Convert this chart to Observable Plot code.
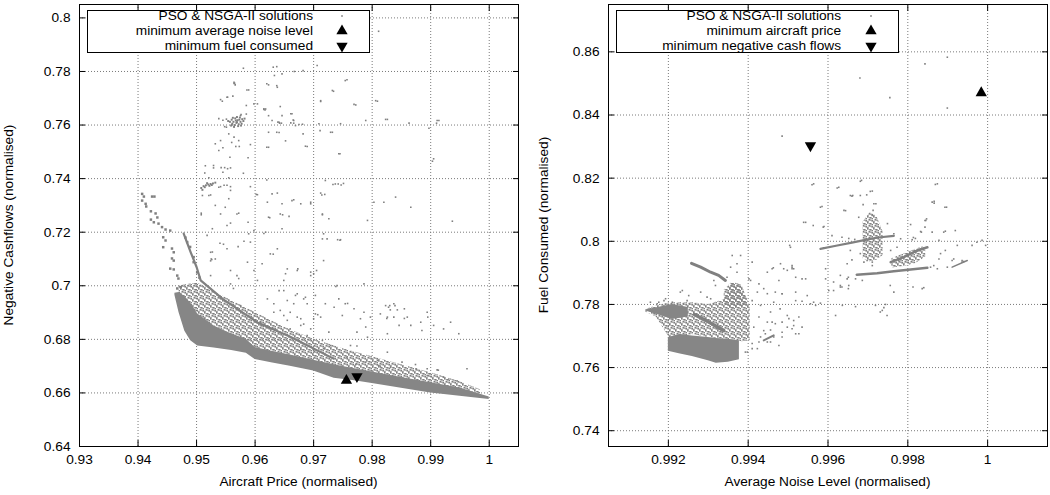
<!DOCTYPE html>
<html><head><meta charset="utf-8">
<script src="https://cdn.jsdelivr.net/npm/d3@7"></script>
<script src="https://cdn.jsdelivr.net/npm/@observablehq/plot@0.6"></script>
<style>
html,body{margin:0;padding:0;background:#fff;}
#wrap{position:relative;width:1050px;height:495px;overflow:hidden;font-family:"Liberation Sans",Arial,sans-serif;font-size:13.7px;color:#000;background:#fff;}
.panel{position:absolute;top:0;}
.legend{position:absolute;border:1px solid #000;background:#fff;box-sizing:border-box;}
.lrow{position:absolute;white-space:nowrap;line-height:15px;height:15px;text-align:right;}
.sym{position:absolute;overflow:visible;}
.ttl{position:absolute;white-space:nowrap;line-height:16px;height:16px;text-align:center;}
</style></head><body>
<svg width="0" height="0" style="position:absolute">
 <defs>
  <pattern id="speck" width="6" height="6" patternUnits="userSpaceOnUse">
   <rect x="0" y="0" width="1.6" height="1.6" fill="#808080"/>
   <rect x="3" y="1" width="1.6" height="1.6" fill="#808080"/>
   <rect x="1.5" y="3" width="1.6" height="1.6" fill="#808080"/>
   <rect x="4.4" y="4" width="1.6" height="1.6" fill="#808080"/>
   <rect x="0.2" y="4.8" width="1.4" height="1.2" fill="#808080"/>
   <rect x="4.6" y="2" width="1.4" height="1.4" fill="#808080"/>
   <rect x="1.8" y="1.2" width="1.2" height="1.2" fill="#808080"/>
   <rect x="3.2" y="3.4" width="1.2" height="1.4" fill="#808080"/>
  </pattern>
 </defs>
</svg>
<div id="wrap"></div>
<script>
// ---------- LEFT PANEL DATA ----------
const leftXTicks = [0.93, 0.94, 0.95, 0.96, 0.97, 0.98, 0.99, 1];
const leftYTicks = [0.64, 0.66, 0.68, 0.70, 0.72, 0.74, 0.76, 0.78, 0.80];
const leftXTickLabels = ["0.93","0.94","0.95","0.96","0.97","0.98","0.99","1"];
const leftYTickLabels = ["0.64","0.66","0.68","0.7","0.72","0.74","0.76","0.78","0.8"];
const leftXTitle = "Aircraft Price (normalised)";
const leftYTitle = "Negative Cashflows (normalised)";
const leftLegend = ["PSO & NSGA-II solutions", "minimum average noise level", "minimum fuel consumed"];
// dense front of solutions: [x, yLow, yHigh]
const leftBandCore = [
 [0.9463,0.6965,0.6972],[0.9470,0.6900,0.6975],[0.9480,0.6830,0.6960],[0.9490,0.6795,0.6935],
 [0.9502,0.6775,0.6895],[0.9530,0.6768,0.6850],[0.9560,0.6758,0.6820],[0.9585,0.6748,0.6800],
 [0.9600,0.6725,0.6770],[0.9630,0.6712,0.6755],[0.9660,0.6700,0.6742],[0.9700,0.6682,0.6722],
 [0.9735,0.6655,0.6705],[0.9770,0.6645,0.6690],[0.9800,0.6635,0.6678],[0.9850,0.6617,0.6658],
 [0.9900,0.6600,0.6638],[0.9950,0.6588,0.6618],[1.0000,0.6575,0.6585]
];
const leftBandLight = [
 [0.9470,0.6950,0.7000],[0.9502,0.6880,0.7010],[0.9550,0.6830,0.6955],[0.9600,0.6765,0.6900],
 [0.9650,0.6745,0.6845],[0.9700,0.6720,0.6800],[0.9750,0.6697,0.6765],[0.9800,0.6675,0.6735],
 [0.9850,0.6655,0.6705],[0.9900,0.6635,0.6675],[0.9950,0.6615,0.6642],[0.9985,0.6595,0.6612]
];
const leftBandLine = [
 [0.9478,0.7195],[0.9490,0.7125],[0.9500,0.7070],[0.9507,0.7020],[0.9545,0.6950],
 [0.9604,0.6863],[0.9660,0.6810],[0.9734,0.6728]
];
const leftTail = [
 [0.9407,0.7343],[0.9410,0.7333],[0.9407,0.7318],[0.9413,0.7306],[0.9414,0.7296],[0.9424,0.7333],
 [0.9428,0.7333],[0.9422,0.7278],[0.9430,0.7270],[0.9433,0.7255],[0.9422,0.7247],[0.9427,0.7237],
 [0.9435,0.7232],[0.9441,0.7219],[0.9447,0.7210],[0.9455,0.7206],[0.9443,0.7181],[0.9447,0.7169],
 [0.9443,0.7144],[0.9458,0.7139],[0.9461,0.7125],[0.9458,0.7102],[0.9461,0.7094],[0.9455,0.7064],
 [0.9461,0.7061],[0.9467,0.7038],[0.9469,0.7027],[0.9473,0.6995],[0.9467,0.6990],
 [0.9481,0.7180],[0.9484,0.7163],[0.9489,0.7145],[0.9495,0.7107],[0.9495,0.7088],[0.9501,0.7050],[0.9505,0.7030]
];
const leftClusters = [
 [0.9560,0.7620],[0.9563,0.7612],[0.9566,0.7625],[0.9568,0.7608],[0.9570,0.7618],[0.9572,0.7603],
 [0.9565,0.7600],[0.9575,0.7612],[0.9578,0.7622],[0.9561,0.7605],[0.9569,0.7630],[0.9574,0.7628],
 [0.9580,0.7615],[0.9557,0.7612],[0.9571,0.7596],[0.9564,0.7593],[0.9577,0.7605],[0.9567,0.7617],
 [0.9562,0.7627],[0.9573,0.7620],[0.9582,0.7624],[0.9559,0.7598],[0.9554,0.7615],[0.9576,0.7598],
 [0.9569,0.7611],
 [0.9508,0.7365],[0.9512,0.7372],[0.9516,0.7375],[0.9520,0.7378],[0.9524,0.7380],[0.9528,0.7382],
 [0.9532,0.7385],[0.9514,0.7368],[0.9522,0.7373],[0.9518,0.7383],[0.9526,0.7376],[0.9510,0.7358]
];
const leftDots = [
 [0.9580,0.7812],[0.9631,0.7816],[0.9637,0.7818],[0.9667,0.7800],[0.9682,0.7803],[0.9646,0.7791],
 [0.9633,0.7785],[0.9706,0.7822],[0.9757,0.7769],[0.9565,0.7756],[0.9566,0.7750],[0.9623,0.7750],
 [0.9638,0.7741],[0.9589,0.7731],[0.9734,0.7726],[0.9544,0.7689],[0.9553,0.7704],[0.9562,0.7708],
 [0.9643,0.7669],[0.9585,0.7673],[0.9712,0.7688],[0.9772,0.7675],[0.9809,0.7689],[0.9615,0.7658],
 [0.9617,0.7656],[0.9576,0.7639],[0.9585,0.7641],[0.9604,0.7679],[0.9623,0.7635],[0.9629,0.7617],
 [0.9639,0.7611],[0.9641,0.7610],[0.9642,0.7607],[0.9645,0.7607],[0.9661,0.7608],[0.9665,0.7619],
 [0.9666,0.7607],[0.9675,0.7602],[0.9681,0.7603],[0.9663,0.7642],[0.9709,0.7605],[0.9711,0.7579],
 [0.9732,0.7573],[0.9746,0.7605],[0.9789,0.7617],[0.9826,0.7621],[0.9863,0.7607],[0.9914,0.7617],
 [0.9910,0.7607],[0.9905,0.7474],[0.9623,0.7573],[0.9637,0.7573],[0.9641,0.7572],[0.9652,0.7541],
 [0.9682,0.7567],[0.9689,0.7520],[0.9623,0.7517],[0.9745,0.7493],[0.9588,0.7478],[0.9592,0.7527],
 [0.9557,0.7480],[0.9558,0.7440],[0.9580,0.7420],[0.9545,0.7424],[0.9515,0.7448],[0.9514,0.7421],
 [0.9521,0.7403],[0.9555,0.7403],[0.9558,0.7370],[0.9592,0.7370],[0.9620,0.7395],[0.9720,0.7393],
 [0.9733,0.7378],[0.9742,0.7380],[0.9747,0.7376],
 [0.9538,0.7624],[0.9545,0.7618],[0.9548,0.7594],[0.9551,0.7592],[0.9560,0.7601],[0.9555,0.7567],
 [0.9564,0.7555],[0.9572,0.7542],[0.9541,0.7542],[0.9532,0.7530],[0.9538,0.7505],[0.9545,0.7515],
 [0.9567,0.7520],[0.9573,0.7520],[0.9560,0.7535],[0.9551,0.7622],[0.9575,0.7635],
 [0.9811,0.7950],[0.9754,0.7766],[0.9732,0.7729],[0.9769,0.7677],[0.9806,0.7691],[0.9712,0.7691],
 [0.9823,0.7621],[0.9897,0.7588],[0.9911,0.7617],[0.9903,0.7465],[0.9743,0.7493],[0.9729,0.7573],
 [0.9866,0.7293],[0.9840,0.7331],[0.9820,0.7312],[0.9803,0.7312],[0.9937,0.7241],[0.9792,0.7244],
 [0.9712,0.7346],[0.9714,0.7339],[0.9715,0.7268],[0.9746,0.7172],[0.9745,0.7170],[0.9737,0.7380],
 [0.9751,0.7382],[0.9717,0.7194],[0.9723,0.7175],
 [0.9538,0.7368],[0.9541,0.7370],[0.9547,0.7375],[0.9552,0.7375],[0.9510,0.7337],[0.9521,0.7337],
 [0.9524,0.7339],[0.9532,0.7300],[0.9549,0.7293],[0.9555,0.7325],[0.9558,0.7356],[0.9602,0.7341],
 [0.9604,0.7340],[0.9629,0.7343],[0.9646,0.7306],[0.9666,0.7321],[0.9695,0.7306],[0.9719,0.7341],
 [0.9715,0.7265],[0.9658,0.7259],[0.9625,0.7254],[0.9588,0.7237],[0.9572,0.7271],[0.9558,0.7234],
 [0.9552,0.7225],[0.9508,0.7271],[0.9508,0.7265],[0.9541,0.7268],[0.9527,0.7213],[0.9518,0.7188],
 [0.9540,0.7159],[0.9546,0.7155],[0.9552,0.7138],[0.9524,0.7125],[0.9527,0.7126],[0.9525,0.7100],
 [0.9526,0.7098],[0.9524,0.7093],[0.9532,0.7100],[0.9558,0.7057],[0.9587,0.7088],[0.9581,0.7166],
 [0.9571,0.7146],[0.9589,0.7194],[0.9598,0.7057],[0.9604,0.7020],[0.9618,0.7200],[0.9615,0.7195],
 [0.9626,0.7119],[0.9631,0.7118],[0.9638,0.7138],[0.9646,0.7213],[0.9655,0.7063],[0.9672,0.7057],
 [0.9673,0.7063],[0.9695,0.7051],[0.9705,0.7057],[0.9695,0.7038],[0.9717,0.7094],[0.9715,0.7175],
 [0.9612,0.7082],[0.9592,0.7163],[0.9569,0.7038],[0.9572,0.7027],[0.9558,0.7007],[0.9649,0.7020],
 [0.9641,0.6982],[0.9672,0.6970],[0.9683,0.6951],[0.9655,0.6945],[0.9632,0.6933],[0.9703,0.6964],
 [0.9703,0.6895],[0.9707,0.6892],[0.9660,0.6901],[0.9643,0.6908],[0.9672,0.6883],[0.9683,0.6857],
 [0.9652,0.7045],[0.9700,0.7045],[0.9786,0.7007],[0.9740,0.7001],[0.9738,0.6997],[0.9649,0.6982],
 [0.9669,0.6964],[0.9686,0.6957],[0.9689,0.6933],[0.9666,0.6933],[0.9720,0.6933],[0.9735,0.6920],
 [0.9743,0.6951],[0.9754,0.6933],[0.9758,0.6934],[0.9769,0.6914],[0.9786,0.6901],[0.9814,0.6895],
 [0.9823,0.6926],[0.9828,0.6920],[0.9830,0.6926],[0.9837,0.6933],[0.9839,0.6926],[0.9831,0.6910],
 [0.9843,0.6910],[0.9826,0.6883],[0.9825,0.6878],[0.9837,0.6883],[0.9855,0.6914],[0.9860,0.6883],
 [0.9855,0.6878],[0.9846,0.6852],[0.9866,0.6852],[0.9883,0.6864],[0.9894,0.6901],[0.9895,0.6883],
 [0.9885,0.6833],[0.9905,0.6852],[0.9922,0.6839],[0.9934,0.6864],[0.9948,0.6821],[0.9797,0.6883],
 [0.9789,0.6846],[0.9780,0.6877],[0.9749,0.6889],[0.9712,0.6883],[0.9678,0.6877],[0.9655,0.6871],
 [0.9695,0.6839],[0.9726,0.6827],[0.9774,0.6827],[0.9826,0.6821],[0.9792,0.6808],[0.9763,0.6777],
 [0.9774,0.6775],[0.9826,0.6752],[0.9809,0.6721],[0.9814,0.6700],[0.9831,0.6695],[0.9851,0.6715],
 [0.9874,0.6706],[0.9875,0.6690],[0.9894,0.6690],[0.9911,0.6686],[0.9913,0.6685],[0.9894,0.6665],
 [0.9922,0.6659],[0.9931,0.6652],[0.9945,0.6645],[0.9962,0.6690],[0.9811,0.6702],[0.9789,0.6715],
 [0.9772,0.6706],[0.9757,0.6733],[0.9717,0.6765],[0.9700,0.6758],[0.9678,0.6762],
 [0.9524,0.7038],[0.9563,0.6990],[0.9541,0.6952],[0.9575,0.6926],[0.9621,0.6951],[0.9632,0.6901],
 [0.9649,0.6889],[0.9678,0.6852],[0.9700,0.6877],[0.9689,0.6814],[0.9715,0.6796],[0.9729,0.6777],
 [0.9660,0.6839],[0.9609,0.6864],
 [0.9564,0.7760],[0.9564,0.7755],[0.9541,0.7695],[0.9552,0.7704],[0.9586,0.7731],[0.9620,0.7754],
 [0.9637,0.7747],[0.9598,0.7679],[0.9615,0.7661],[0.9618,0.7660],[0.9646,0.7635],[0.9661,0.7642],
 [0.9666,0.7617],[0.9669,0.7598],[0.9686,0.7521],[0.9620,0.7517],[0.9553,0.7437],[0.9529,0.7449],
 [0.9529,0.7440],[0.9542,0.7441],[0.9548,0.7441],[0.9638,0.7346],[0.9663,0.7318],[0.9621,0.7312],
 [0.9569,0.7268],[0.9598,0.7206],[0.9623,0.7256],[0.9643,0.7268],[0.9647,0.7265],[0.9678,0.7306],
 [0.9695,0.7312],[0.9726,0.7250],[0.9741,0.7172]
];
const leftMinNoise = [[0.9756, 0.6646]];
const leftMinFuel = [[0.9774, 0.6661]];

// ---------- RIGHT PANEL DATA ----------
const rightXTicks = [0.992, 0.994, 0.996, 0.998, 1];
const rightYTicks = [0.74, 0.76, 0.78, 0.80, 0.82, 0.84, 0.86];
const rightXTickLabels = ["0.992","0.994","0.996","0.998","1"];
const rightYTickLabels = ["0.74","0.76","0.78","0.8","0.82","0.84","0.86"];
const rightXTitle = "Average Noise Level (normalised)";
const rightYTitle = "Fuel Consumed (normalised)";
const rightLegend = ["PSO & NSGA-II solutions", "minimum aircraft price", "minimum negative cash flows"];
const rightLight = [
 [0.99143,0.7776,0.7784],[0.99170,0.7760,0.7795],[0.99205,0.7690,0.7805],[0.99260,0.7705,0.7805],
 [0.99300,0.7695,0.7800],[0.99340,0.7690,0.7815],[0.99360,0.7688,0.7870],[0.99385,0.7682,0.7860],
 [0.99405,0.7685,0.7790]
];
const rightLightB = [
 [0.99688,0.7945,0.8060],[0.99705,0.7935,0.8090],[0.99722,0.7940,0.8080],[0.99738,0.7955,0.8030]
];
const rightLightC = [
 [0.99760,0.7915,0.7945],[0.99790,0.7920,0.7960],[0.99820,0.7930,0.7975],[0.99845,0.7950,0.7985]
];
const rightBox = [
 [0.99200,0.7652,0.7695],[0.99230,0.7643,0.7705],[0.99260,0.7635,0.7700],[0.99300,0.7622,0.7695],
 [0.99320,0.7614,0.7692],[0.99350,0.7617,0.7690],[0.99378,0.7625,0.7685]
];
const rightWedge = [
 [0.99143,0.7779,0.7782],[0.99180,0.7765,0.7792],[0.99210,0.7752,0.7800],[0.99250,0.7760,0.7790]
];
const rightColumn = [
 [0.99340,0.7800,0.7845],[0.99360,0.7785,0.7870],[0.99380,0.7790,0.7862],[0.99398,0.7795,0.7815]
];
const rightStreakMid = [[0.99265,0.7768],[0.99300,0.7745],[0.99339,0.7717]];
const rightStreakTop = [[0.99258,0.7930],[0.99281,0.7918],[0.99306,0.7902],[0.99326,0.7892],[0.99343,0.7876]];
const rightStreakHigh = [[0.99581,0.7976],[0.99620,0.7986],[0.99660,0.7996],[0.99700,0.8006],[0.99725,0.8012],[0.99765,0.8017]];
const rightStreakLow = [[0.99672,0.7894],[0.99723,0.7899],[0.99765,0.7905],[0.99807,0.7911],[0.99849,0.7916]];
const rightStreakUp = [[0.99757,0.7934],[0.99790,0.7950],[0.99815,0.7966],[0.99836,0.7976],[0.99849,0.7981]];
const rightStreakSmall = [[0.99439,0.7686],[0.99464,0.7702]];
const rightStreakRight = [[0.99911,0.7918],[0.99949,0.7939]];
const rightDots = [
 [0.99680,0.8517],[0.99843,0.8562],[0.99899,0.8583],[0.99755,0.8455],[0.99899,0.8422],[0.99485,0.8333],
 [0.99560,0.8179],[0.99623,0.8169],[0.99869,0.8180],[0.99861,0.8124],[0.99893,0.8108],[0.99581,0.8108],
 [0.99656,0.8145],[0.99660,0.8143],[0.99681,0.8145],[0.99706,0.8158],[0.99640,0.8098],[0.99715,0.8119],
 [0.99713,0.8098],[0.99539,0.8060],[0.99588,0.8045],[0.99843,0.8066],[0.99843,0.8045],[0.99684,0.8193],
 [0.99890,0.8029],[0.99919,0.8034],
 [0.99564,0.8182],[0.99627,0.8171],[0.99662,0.8145],[0.99697,0.8147],[0.99711,0.8159],[0.99681,0.8190],
 [0.99874,0.8182],[0.99866,0.8127],[0.99866,0.8121],[0.99897,0.8108],[0.99585,0.8110],[0.99644,0.8097],
 [0.99688,0.8116],[0.99720,0.8119],[0.99544,0.8060],[0.99563,0.8050],[0.99590,0.8047],[0.99677,0.8076],
 [0.99711,0.8082],[0.99749,0.8056],[0.99845,0.8066],[0.99847,0.8071],[0.99834,0.8029],[0.99832,0.8031],
 [0.99861,0.8029],[0.99894,0.8032],[0.99807,0.8053],[0.99765,0.8024],[0.99782,0.8008],[0.99811,0.8005],
 [0.99814,0.8012],[0.99819,0.8009],[0.99878,0.8003],[0.99924,0.7987],[0.99961,0.7987],[0.99973,0.7997],
 [0.99995,0.7987],[0.99986,0.8003],[0.99506,0.7981],[0.99610,0.8018],[0.99635,0.8013],[0.99652,0.8009],
 [0.99667,0.8006],[0.99589,0.7979],[0.99594,0.7913],[0.99489,0.7913],[0.99510,0.7918],[0.99514,0.7913],
 [0.99519,0.7886],[0.99544,0.7881],[0.99614,0.7871],[0.99631,0.7892],[0.99648,0.7881],[0.99651,0.7886],
 [0.99614,0.7844],[0.99631,0.7855],[0.99651,0.7850],[0.99636,0.7797],[0.99669,0.7793],[0.99744,0.7800],
 [0.99765,0.7839],[0.99813,0.7855],[0.99840,0.7853],[0.99485,0.7834],[0.99519,0.7839],[0.99519,0.7812],
 [0.99535,0.7810],[0.99548,0.7828],[0.99564,0.7807],[0.99581,0.7804],[0.99648,0.7929],[0.99660,0.7941],
 [0.99698,0.7939],[0.99711,0.7923],[0.99681,0.7961],[0.99656,0.7971],[0.99757,0.7971],[0.99773,0.7981],
 [0.99777,0.7939],[0.99806,0.7944],[0.99882,0.7961],[0.99894,0.7971],[0.99915,0.7944],[0.99936,0.7934],
 [0.99940,0.7936],[0.99899,0.7918],[0.99874,0.7913],[0.99857,0.7918],
 [0.99360,0.7955],[0.99381,0.7955],[0.99372,0.7929],[0.99402,0.7881],[0.99406,0.7876],[0.99427,0.7865],
 [0.99423,0.7839],[0.99439,0.7850],[0.99448,0.7834],[0.99468,0.7839],[0.99485,0.7834],[0.99463,0.7916],
 [0.99498,0.7908],[0.99510,0.7923],[0.99504,0.7987],[0.99410,0.7812],[0.99431,0.7797],[0.99464,0.7807],
 [0.99480,0.7786],[0.99456,0.7776],[0.99498,0.7765],[0.99427,0.7760],[0.99448,0.7744],[0.99468,0.7739],
 [0.99485,0.7744],[0.99514,0.7749],[0.99414,0.7728],[0.99439,0.7717],[0.99456,0.7719],[0.99464,0.7697],
 [0.99485,0.7697],[0.99448,0.7681],[0.99410,0.7676],[0.99423,0.7660],[0.99398,0.7649],[0.99431,0.7697],
 [0.99498,0.7728],[0.99510,0.7723],[0.99527,0.7707],
 [0.99460,0.7913],[0.99510,0.7913],[0.99535,0.7881],[0.99477,0.7876],[0.99569,0.7797],[0.99556,0.7802],
 [0.99527,0.7760],[0.99502,0.7755],[0.99514,0.7733],[0.99535,0.7728],[0.99485,0.7712],[0.99519,0.7707],
 [0.99460,0.7744],[0.99443,0.7707],[0.99427,0.7681],[0.99456,0.7681],[0.99410,0.7660],[0.99393,0.7649],
 [0.99477,0.7670],[0.99594,0.7881],[0.99602,0.7844],[0.99619,0.7765],[0.99631,0.7860],[0.99635,0.7855],
 [0.99652,0.7860],[0.99669,0.7881],[0.99686,0.7876],[0.99690,0.7934],[0.99711,0.7934],[0.99756,0.7860],
 [0.99836,0.7850],[0.99719,0.7797],[0.99736,0.7781],[0.99731,0.7776],[0.99748,0.7765],[0.99740,0.7790],
 [0.99878,0.7944],[0.99911,0.7939],[0.99936,0.7939],[0.99865,0.7923],
 [0.99155,0.7807],[0.99176,0.7807],[0.99193,0.7818],[0.99235,0.7844],[0.99251,0.7828],[0.99281,0.7839],
 [0.99297,0.7823],[0.99318,0.7860],[0.99314,0.7876],[0.99410,0.7934],[0.99448,0.7902],[0.99481,0.7929],
 [0.99210,0.7807],[0.99189,0.7812],[0.99172,0.7802],[0.99230,0.7839],[0.99247,0.7812],[0.99306,0.7818],
 [0.99356,0.7918],[0.99372,0.7902],[0.99347,0.7886]
];
const rightMinPrice = [[0.99984, 0.8470]];
const rightMinCash = [[0.99556, 0.8303]];

// ---------- DRAWING ----------
const GRAY = "#808080";
const CORE = "#868686";
const SPECK = "url(#speck)";
const wrap = document.getElementById("wrap");
const X = d => d[0], Y = d => d[1], Y1 = d => d[1], Y2 = d => d[2];

function axes(xt, yt, xl, yl) {
  const fx = d => xl[xt.indexOf(d)], fy = d => yl[yt.indexOf(d)];
  const none = () => "";
  return [
    Plot.axisX(xt, {anchor: "bottom", tickSize: 0, tickPadding: 8, tickFormat: fx, label: null}),
    Plot.axisY(yt, {anchor: "left", tickSize: 0, tickPadding: 9, tickFormat: fy, label: null}),
    Plot.axisX(xt, {anchor: "bottom", tickSize: -6, tickFormat: none, label: null}),
    Plot.axisX(xt, {anchor: "top", tickSize: -6, tickFormat: none, label: null}),
    Plot.axisY(yt, {anchor: "left", tickSize: -6, tickFormat: none, label: null}),
    Plot.axisY(yt, {anchor: "right", tickSize: -6, tickFormat: none, label: null})
  ];
}
function grid(xt, yt) {
  return [
    Plot.gridX(xt, {stroke: "#7a7a7a", strokeOpacity: 1, strokeDasharray: "1,2"}),
    Plot.gridY(yt, {stroke: "#7a7a7a", strokeOpacity: 1, strokeDasharray: "1,2"})
  ];
}
const dotOpts = {x: X, y: Y, symbol: "square", r: 0.9, fill: GRAY, stroke: null};
const styleObj = {fontFamily: "'Liberation Sans', Arial, sans-serif", fontSize: "13.7px", color: "#000", background: "#fff", overflow: "visible"};

const left = Plot.plot({
  width: 525, height: 495, marginLeft: 79, marginRight: 7, marginTop: 4, marginBottom: 49,
  x: {domain: [0.93, 1.005]}, y: {domain: [0.64, 0.805]},
  style: styleObj,
  marks: [
    ...grid(leftXTicks, leftYTicks),
    Plot.area(leftBandLight, {x1: X, y1: Y1, y2: Y2, fill: SPECK}),
    Plot.area(leftBandCore, {x1: X, y1: Y1, y2: Y2, fill: CORE}),
    Plot.line(leftBandLine, {x: X, y: Y, stroke: GRAY, strokeWidth: 2.2}),
    Plot.dot(leftTail, {...dotOpts, r: 1.4}),
    Plot.dot(leftClusters, {...dotOpts, r: 1.1}),
    Plot.dot(leftDots, dotOpts),
    Plot.dot(leftMinNoise, {x: X, y: Y, symbol: "triangle", r: 4.2, fill: "#000"}),
    Plot.dot(leftMinFuel, {x: X, y: Y, symbol: "triangle", r: 4.2, fill: "#000", rotate: 180}),
    Plot.frame({stroke: "#000", strokeWidth: 1}),
    ...axes(leftXTicks, leftYTicks, leftXTickLabels, leftYTickLabels)
  ]
});
left.classList.add("panel"); left.style.left = "0px";
wrap.appendChild(left);

const right = Plot.plot({
  width: 525, height: 495, marginLeft: 83, marginRight: 3, marginTop: 4, marginBottom: 49,
  x: {domain: [0.9905, 1.0015]}, y: {domain: [0.735, 0.875]},
  style: styleObj,
  marks: [
    ...grid(rightXTicks, rightYTicks),
    Plot.area(rightLight, {x1: X, y1: Y1, y2: Y2, fill: SPECK}),
    Plot.area(rightLightB, {x1: X, y1: Y1, y2: Y2, fill: SPECK}),
    Plot.area(rightLightC, {x1: X, y1: Y1, y2: Y2, fill: SPECK}),
    Plot.area(rightBox, {x1: X, y1: Y1, y2: Y2, fill: CORE}),
    Plot.area(rightWedge, {x1: X, y1: Y1, y2: Y2, fill: CORE}),
    Plot.area(rightColumn, {x1: X, y1: Y1, y2: Y2, fill: SPECK}),
    Plot.line(rightStreakMid, {x: X, y: Y, stroke: GRAY, strokeWidth: 3.5}),
    Plot.line(rightStreakTop, {x: X, y: Y, stroke: GRAY, strokeWidth: 3}),
    Plot.line(rightStreakHigh, {x: X, y: Y, stroke: GRAY, strokeWidth: 2.2}),
    Plot.line(rightStreakLow, {x: X, y: Y, stroke: GRAY, strokeWidth: 2.5}),
    Plot.line(rightStreakUp, {x: X, y: Y, stroke: GRAY, strokeWidth: 2.5}),
    Plot.line(rightStreakSmall, {x: X, y: Y, stroke: GRAY, strokeWidth: 2}),
    Plot.line(rightStreakRight, {x: X, y: Y, stroke: GRAY, strokeWidth: 1.5}),
    Plot.dot(rightDots, dotOpts),
    Plot.dot(rightMinPrice, {x: X, y: Y, symbol: "triangle", r: 4.2, fill: "#000"}),
    Plot.dot(rightMinCash, {x: X, y: Y, symbol: "triangle", r: 4.2, fill: "#000", rotate: 180}),
    Plot.frame({stroke: "#000", strokeWidth: 1}),
    ...axes(rightXTicks, rightYTicks, rightXTickLabels, rightYTickLabels)
  ]
});
right.classList.add("panel"); right.style.left = "525px";
wrap.appendChild(right);

// ---------- LEGENDS & TITLES ----------
function legend(labels, boxLeft, textRight, symX) {
  const box = document.createElement("div");
  box.className = "legend";
  Object.assign(box.style, {left: boxLeft + "px", top: "10px", width: "283px", height: "43px"});
  wrap.appendChild(box);
  const centers = [16, 31, 46];
  labels.forEach((t, i) => {
    const r = document.createElement("div");
    r.className = "lrow";
    r.textContent = t;
    Object.assign(r.style, {left: "0px", width: textRight + "px", top: (centers[i] - 8) + "px"});
    wrap.appendChild(r);
    const s = document.createElementNS("http://www.w3.org/2000/svg", "svg");
    s.setAttribute("class", "sym");
    s.setAttribute("width", 14); s.setAttribute("height", 14);
    s.style.left = (symX - 7) + "px"; s.style.top = (centers[i] - 7) + "px";
    let shape;
    if (i === 0) {
      shape = document.createElementNS("http://www.w3.org/2000/svg", "rect");
      shape.setAttribute("x", 6.2); shape.setAttribute("y", 6.2);
      shape.setAttribute("width", 1.6); shape.setAttribute("height", 1.6);
      shape.setAttribute("fill", GRAY);
    } else {
      shape = document.createElementNS("http://www.w3.org/2000/svg", "polygon");
      shape.setAttribute("points", i === 1 ? "7,0.5 1.35,10.3 12.65,10.3" : "7,13.5 1.35,3.7 12.65,3.7");
      shape.setAttribute("fill", "#000");
    }
    s.appendChild(shape);
    wrap.appendChild(s);
  });
}
legend(leftLegend, 87, 313, 342);
legend(rightLegend, 616, 841, 871);

function title(text, cx, cy, rotate) {
  const d = document.createElement("div");
  d.className = "ttl";
  d.textContent = text;
  Object.assign(d.style, {left: (cx - 200) + "px", top: (cy - 8) + "px", width: "400px"});
  if (rotate) d.style.transform = "rotate(-90deg)";
  wrap.appendChild(d);
}
title(leftXTitle, 298.5, 482, false);
title(rightXTitle, 827.5, 482, false);
title(leftYTitle, 9, 225, true);
title(rightYTitle, 544, 225, true);
</script></body></html>
